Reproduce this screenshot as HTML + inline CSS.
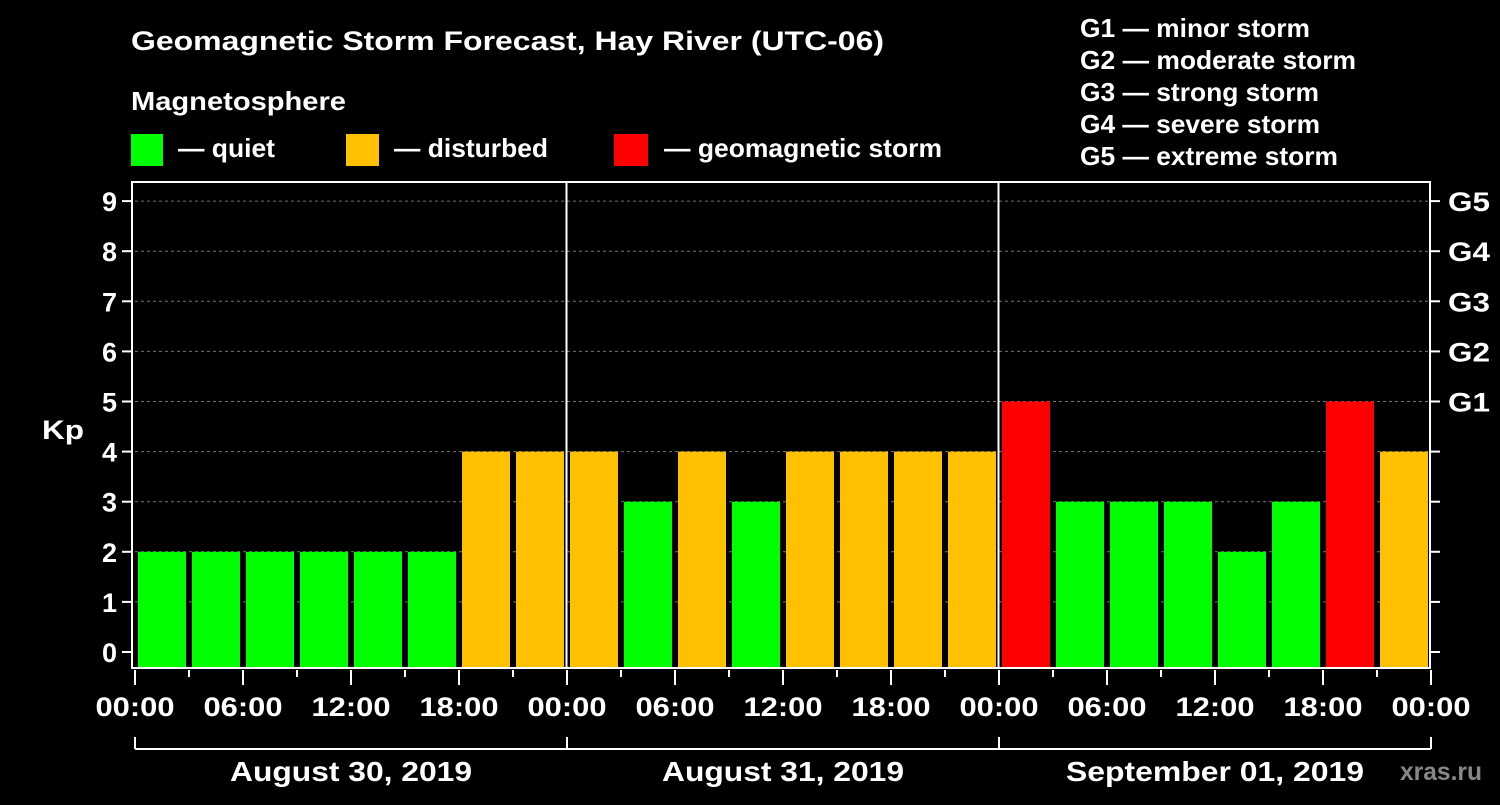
<!DOCTYPE html>
<html><head><meta charset="utf-8"><style>
body{margin:0;background:#000;width:1500px;height:800px;overflow:hidden}
svg text{font-family:"Liberation Sans",Arial,sans-serif;font-weight:bold;fill:#fff}
</style></head><body>
<svg id="c" width="1500" height="800">
<text x="131" y="50" font-size="27" textLength="753" lengthAdjust="spacingAndGlyphs">Geomagnetic Storm Forecast, Hay River (UTC-06)</text>
<text x="131" y="110" font-size="26" textLength="215" lengthAdjust="spacingAndGlyphs">Magnetosphere</text>
<g><rect x="131" y="134" width="32" height="32" fill="#00ff00"/><text x="178" y="157" font-size="26" textLength="97" lengthAdjust="spacingAndGlyphs">— quiet</text></g>
<g><rect x="346" y="134" width="33" height="32" fill="#ffc000"/><text x="394" y="157" font-size="26" textLength="154" lengthAdjust="spacingAndGlyphs">— disturbed</text></g>
<g><rect x="614" y="134" width="34" height="32" fill="#ff0000"/><text x="664" y="157" font-size="26" textLength="278" lengthAdjust="spacingAndGlyphs">— geomagnetic storm</text></g>
<g font-size="26">
<text x="1080" y="37" textLength="230" lengthAdjust="spacingAndGlyphs">G1 — minor storm</text>
<text x="1080" y="69" textLength="276" lengthAdjust="spacingAndGlyphs">G2 — moderate storm</text>
<text x="1080" y="101" textLength="239" lengthAdjust="spacingAndGlyphs">G3 — strong storm</text>
<text x="1080" y="133" textLength="240" lengthAdjust="spacingAndGlyphs">G4 — severe storm</text>
<text x="1080" y="165" textLength="258" lengthAdjust="spacingAndGlyphs">G5 — extreme storm</text>
</g>
<text x="1400" y="780" font-size="25" textLength="82" lengthAdjust="spacingAndGlyphs" style="fill:#888">xras.ru</text>
<g id="plot"></g>
</svg>
<script>
const kpValues=[2,2,2,2,2,2,4,4, 4,3,4,3,4,4,4,4, 5,3,3,3,2,3,5,4];
const yTicks=[0,1,2,3,4,5,6,7,8,9];
const gLabels=[[5,"G1"],[6,"G2"],[7,"G3"],[8,"G4"],[9,"G5"]];
const xTickLabels=["00:00","06:00","12:00","18:00","00:00","06:00","12:00","18:00","00:00","06:00","12:00","18:00","00:00"];
const dayLabels=["August 30, 2019","August 31, 2019","September 01, 2019"];
const dayLabelWidths=[242,242,298];
const NS="http://www.w3.org/2000/svg";
const X0=135,SLOT=54,TOP=182,BOT=668;
const xs=i=>X0+i*SLOT;
const ys=v=>652-v*50.1;
const g=document.getElementById('plot');
function el(t,a,p){const e=document.createElementNS(NS,t);for(const k in a)e.setAttribute(k,a[k]);(p||g).appendChild(e);return e;}
yTicks.forEach(v=>{if(v>0){const l=el('line',{x1:X0,x2:1430,y1:ys(v),y2:ys(v),stroke:'#777','stroke-dasharray':'3,3'});

}
const t=el('line',{x1:122,x2:132,y1:ys(v),y2:ys(v),stroke:'#fff','stroke-width':2});


const t2=el('line',{x1:1430,x2:1440,y1:ys(v),y2:ys(v),stroke:'#fff','stroke-width':2});


const tx=el('text',{x:117,y:ys(v)+10,'font-size':27,'text-anchor':'end'});tx.textContent=v;

});
gLabels.forEach(([v,s])=>{const tx=el('text',{x:1448,y:ys(v)+10,'font-size':27,textLength:42,lengthAdjust:'spacingAndGlyphs'});tx.textContent=s;

});
kpValues.forEach((v,i)=>{const c=v>=5?'#ff0000':v>=4?'#ffc000':'#00ff00';
const r=el('rect',{x:xs(i)+3,y:ys(v),width:48,height:BOT-ys(v),fill:c});

});
[8,16].forEach(i=>{const l=el('line',{x1:xs(i)-0.5,x2:xs(i)-0.5,y1:TOP,y2:BOT,stroke:'#fff','stroke-width':2});

});
const f=el('rect',{x:132,y:TOP,width:1298,height:BOT-TOP,fill:'none',stroke:'#fff','stroke-width':2});


for(let i=0;i<=24;i++){const major=i%2===0;
const t=el('line',{x1:xs(i),x2:xs(i),y1:670,y2:major?685:677,stroke:'#fff','stroke-width':2});

}
xTickLabels.forEach((s,j)=>{const tx=el('text',{x:xs(j*2)-39.5,y:716,'font-size':27,textLength:79,lengthAdjust:'spacingAndGlyphs'});tx.textContent=s;

});
const b=el('line',{x1:xs(0),x2:xs(24),y1:749,y2:749,stroke:'#fff','stroke-width':2});


[0,8,16,24].forEach(i=>{const t=el('line',{x1:xs(i),x2:xs(i),y1:737,y2:749,stroke:'#fff','stroke-width':2});

});
dayLabels.forEach((s,d)=>{const w=dayLabelWidths[d];const tx=el('text',{x:xs(d*8+4)-w/2,y:781,'font-size':28,textLength:w,lengthAdjust:'spacingAndGlyphs'});tx.textContent=s;

});
const kp=el('text',{x:42,y:439,'font-size':27,textLength:42,lengthAdjust:'spacingAndGlyphs'});kp.textContent='Kp';


</script>
</body></html>
